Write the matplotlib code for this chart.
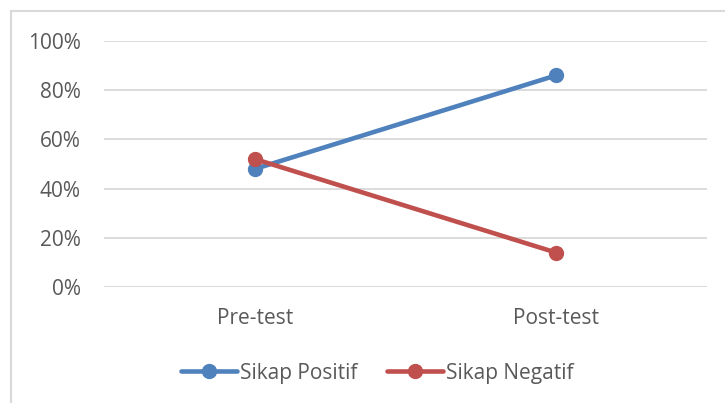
import matplotlib
matplotlib.use('Agg')
import matplotlib.pyplot as plt
from matplotlib.lines import Line2D
from matplotlib.ticker import PercentFormatter

categories = ['Pre-test', 'Post-test']
positif = [48, 86]
negatif = [52, 14]
series_names = ['Sikap Positif', 'Sikap Negatif']
yticks = [0, 20, 40, 60, 80, 100]

BLUE = '#4F81BD'
RED = '#C0504D'
TXT = '#595959'
GRID = '#D9D9D9'
FS = 15

plt.rcParams['font.family'] = ['Open Sans', 'DejaVu Sans']

W, H = 725, 403
fig = plt.figure(figsize=(W / 100, H / 100), dpi=100)
ax = fig.add_axes([104.5 / W, 1 - 287 / H, (706.5 - 104.5) / W, (287 - 41) / H])

x = list(range(len(categories)))
ax.plot(x, positif, color=BLUE, lw=3.3, marker='o', ms=10, solid_capstyle='round', zorder=3)
ax.plot(x, negatif, color=RED, lw=3.3, marker='o', ms=10, solid_capstyle='round', zorder=4)

ax.set_xlim(-0.5, 1.5)
ax.set_ylim(0, 100)
ax.set_yticks(yticks)
ax.yaxis.set_major_formatter(PercentFormatter(decimals=0))
ax.set_xticks(x)
ax.set_xticklabels(categories)
ax.tick_params(length=0, labelsize=FS, colors=TXT)
ax.tick_params(axis='y', pad=17)
ax.tick_params(axis='x', pad=15)
ax.grid(axis='y', color=GRID, lw=1.3)
ax.set_axisbelow(True)
for s in ax.spines.values():
    s.set_visible(False)
ax.axhline(0, color=GRID, lw=1.3, zorder=1)

# chart frame (only top/left visible in the crop)
fig.add_artist(Line2D([11 / W, 1], [1 - 11 / H, 1 - 11 / H], color=GRID, lw=1.5))
fig.add_artist(Line2D([11 / W, 11 / W], [0, 1 - 11 / H], color=GRID, lw=1.5))

handles = [Line2D([], [], color=BLUE, lw=3.3, marker='o', ms=10, solid_capstyle='round'),
           Line2D([], [], color=RED, lw=3.3, marker='o', ms=10, solid_capstyle='round')]
leg = fig.legend(handles, series_names, loc='center', bbox_to_anchor=(377 / W, 1 - 373 / H),
                 ncol=2, frameon=False, fontsize=FS, handlelength=2.7, handletextpad=0.15,
                 columnspacing=1.4)
for t in leg.get_texts():
    t.set_color(TXT)

fig.savefig('out.png', dpi=100)
